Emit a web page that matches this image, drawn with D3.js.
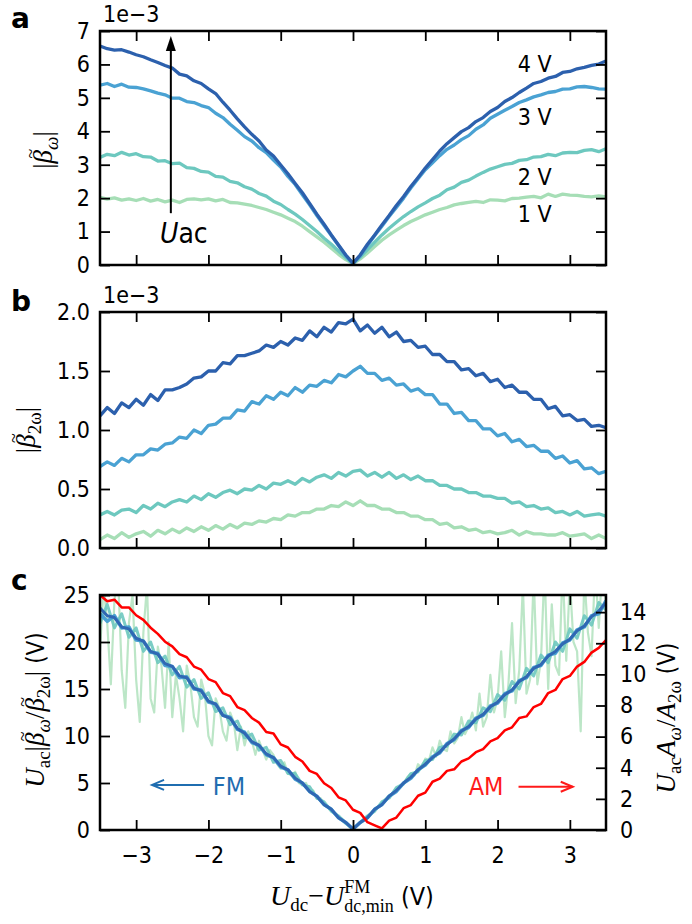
<!DOCTYPE html>
<html>
<head>
<meta charset="utf-8">
<script src="https://cdn.jsdelivr.net/npm/d3@7"></script>
<style>
  body { margin: 0; background: #fff; }
  text { font-family: "DejaVu Sans Condensed", "DejaVu Sans", sans-serif; font-stretch: condensed; }
</style>
</head>
<body>
<div id="chart"></div>
<script>
// sampling grids of the dc offset (V)
const dcOffset = d3.range(71).map(i => +(-3.5 + i * 0.1).toFixed(2))
const dcOffsetFine = d3.range(141).map(i => +(-3.5 + i * 0.05).toFixed(3))

const acLabels = ['1 V', '2 V', '3 V', '4 V']
const acColors = ['#a6deb6', '#6dc8bf', '#4aa2d3', '#2c60ad']

// panel a: |beta_w| (1e-3)
const betaW_1V = [
  2.02, 1.97, 2.01, 1.94, 1.98, 1.93, 1.99, 1.91, 1.96, 1.89,
  1.94, 1.87, 1.96, 1.98, 1.95, 1.98, 1.92, 1.96, 1.87, 1.86,
  1.82, 1.78, 1.72, 1.66, 1.58, 1.50, 1.40, 1.30, 1.16, 1.00,
  0.84, 0.68, 0.50, 0.32, 0.16, 0.04, 0.18, 0.36, 0.55, 0.74,
  0.90, 1.04, 1.18, 1.30, 1.40, 1.50, 1.58, 1.66, 1.72, 1.80,
  1.84, 1.87, 1.90, 1.87, 1.95, 1.94, 1.92, 1.99, 2.00, 2.03,
  2.05, 2.01, 2.12, 2.05, 2.12, 2.09, 2.08, 2.05, 2.04, 2.07, 2.04]
const betaW_2V = [
  3.22, 3.31, 3.27, 3.37, 3.29, 3.33, 3.24, 3.23, 3.11, 3.12,
  3.03, 3.05, 2.91, 2.89, 2.80, 2.78, 2.65, 2.63, 2.50, 2.46,
  2.34, 2.27, 2.14, 2.06, 1.91, 1.81, 1.66, 1.52, 1.36, 1.18,
  1.00, 0.80, 0.62, 0.42, 0.22, 0.05, 0.24, 0.46, 0.68, 0.90,
  1.10, 1.28, 1.45, 1.60, 1.74, 1.86, 1.99, 2.09, 2.25, 2.33,
  2.47, 2.54, 2.66, 2.77, 2.87, 2.94, 3.01, 3.04, 3.13, 3.15,
  3.23, 3.24, 3.31, 3.27, 3.35, 3.37, 3.36, 3.43, 3.45, 3.39, 3.48]
const betaW_3V = [
  5.38, 5.43, 5.34, 5.41, 5.32, 5.31, 5.27, 5.21, 5.14, 5.09,
  4.99, 4.99, 4.89, 4.86, 4.77, 4.71, 4.54, 4.41, 4.21, 4.03,
  3.84, 3.71, 3.51, 3.36, 3.14, 2.93, 2.65, 2.41, 2.10, 1.80,
  1.48, 1.18, 0.88, 0.58, 0.28, 0.05, 0.28, 0.58, 0.88, 1.16,
  1.45, 1.72, 2.00, 2.30, 2.58, 2.85, 3.06, 3.27, 3.46, 3.59,
  3.75, 3.87, 4.06, 4.19, 4.39, 4.51, 4.63, 4.74, 4.86, 4.94,
  5.03, 5.09, 5.16, 5.19, 5.26, 5.27, 5.33, 5.34, 5.31, 5.27, 5.26]
const betaW_4V = [
  6.55, 6.47, 6.43, 6.44, 6.37, 6.29, 6.23, 6.14, 6.06, 5.97,
  5.89, 5.71, 5.66, 5.51, 5.43, 5.27, 5.13, 4.87, 4.63, 4.37,
  4.13, 3.91, 3.71, 3.44, 3.26, 2.99, 2.73, 2.44, 2.16, 1.84,
  1.52, 1.22, 0.90, 0.60, 0.30, 0.05, 0.30, 0.62, 0.90, 1.20,
  1.48, 1.78, 2.05, 2.35, 2.62, 2.90, 3.15, 3.41, 3.63, 3.81,
  3.99, 4.11, 4.29, 4.41, 4.59, 4.71, 4.89, 5.01, 5.16, 5.29,
  5.43, 5.49, 5.59, 5.64, 5.76, 5.79, 5.87, 5.91, 5.97, 6.01, 6.10]

// panel b: |beta_2w| (1e-3)
const beta2W_1V = [
  0.07, 0.11, 0.08, 0.13, 0.09, 0.12, 0.14, 0.10, 0.15, 0.12,
  0.16, 0.13, 0.17, 0.14, 0.18, 0.15, 0.19, 0.16, 0.20, 0.17,
  0.21, 0.20, 0.23, 0.22, 0.25, 0.24, 0.28, 0.27, 0.30, 0.30,
  0.33, 0.33, 0.36, 0.35, 0.39, 0.36, 0.40, 0.36, 0.36, 0.33,
  0.33, 0.30, 0.30, 0.27, 0.27, 0.24, 0.24, 0.20, 0.21, 0.17,
  0.18, 0.15, 0.16, 0.13, 0.14, 0.12, 0.13, 0.15, 0.11, 0.14,
  0.12, 0.12, 0.11, 0.11, 0.13, 0.10, 0.11, 0.12, 0.08, 0.11, 0.08]
const beta2W_2V = [
  0.28, 0.31, 0.28, 0.32, 0.33, 0.30, 0.36, 0.33, 0.38, 0.35,
  0.39, 0.41, 0.39, 0.44, 0.41, 0.46, 0.43, 0.47, 0.49, 0.46,
  0.50, 0.49, 0.53, 0.50, 0.55, 0.54, 0.57, 0.54, 0.59, 0.56,
  0.60, 0.62, 0.59, 0.64, 0.61, 0.65, 0.66, 0.61, 0.64, 0.60,
  0.64, 0.59, 0.62, 0.58, 0.61, 0.57, 0.57, 0.53, 0.53, 0.50,
  0.50, 0.47, 0.47, 0.44, 0.44, 0.42, 0.42, 0.38, 0.39, 0.35,
  0.36, 0.33, 0.34, 0.30, 0.31, 0.28, 0.31, 0.27, 0.28, 0.29, 0.27]
const beta2W_3V = [
  0.69, 0.73, 0.70, 0.76, 0.73, 0.79, 0.79, 0.84, 0.83, 0.88,
  0.89, 0.94, 0.93, 1.00, 0.97, 1.04, 1.05, 1.10, 1.10, 1.17,
  1.16, 1.24, 1.22, 1.29, 1.26, 1.32, 1.29, 1.36, 1.32, 1.38,
  1.37, 1.42, 1.40, 1.47, 1.45, 1.50, 1.54, 1.48, 1.48, 1.42,
  1.44, 1.38, 1.39, 1.33, 1.35, 1.30, 1.30, 1.22, 1.22, 1.14,
  1.15, 1.08, 1.08, 1.01, 1.01, 0.95, 0.97, 0.90, 0.92, 0.86,
  0.87, 0.82, 0.82, 0.76, 0.78, 0.72, 0.74, 0.67, 0.68, 0.63, 0.65]
const beta2W_4V = [
  1.12, 1.19, 1.14, 1.23, 1.19, 1.26, 1.21, 1.30, 1.25, 1.34,
  1.34, 1.36, 1.39, 1.44, 1.45, 1.50, 1.50, 1.57, 1.56, 1.63,
  1.63, 1.65, 1.67, 1.72, 1.70, 1.75, 1.72, 1.78, 1.76, 1.84,
  1.79, 1.87, 1.83, 1.91, 1.90, 1.94, 1.84, 1.89, 1.82, 1.87,
  1.79, 1.83, 1.75, 1.76, 1.70, 1.71, 1.64, 1.64, 1.58, 1.58,
  1.51, 1.52, 1.46, 1.48, 1.41, 1.43, 1.36, 1.38, 1.32, 1.32,
  1.26, 1.26, 1.18, 1.20, 1.12, 1.13, 1.08, 1.09, 1.03, 1.04, 1.02]

// panel c: U_ac |beta_w / beta_2w| (V), left axis
const ratioFM_1V = [
  19.0, 26.0, 22.0, 15.5, 24.5, 27.0, 17.0, 13.0, 22.0, 25.0,
  16.0, 11.5, 21.0, 26.0, 14.0, 12.5, 19.5, 17.5, 13.0, 20.0,
  12.0, 16.5, 14.0, 10.5, 17.5, 15.5, 12.0, 11.0, 16.0, 14.5,
  10.0, 9.0, 14.0, 13.0, 10.5, 9.5, 12.5, 11.5, 8.5, 11.0,
  9.0, 10.5, 9.5, 8.0, 9.5, 8.5, 7.5, 8.5, 8.0, 7.0,
  6.5, 7.2, 6.0, 5.8, 6.2, 5.0, 4.8, 5.0, 4.0, 4.2,
  3.3, 3.4, 2.8, 2.4, 2.0, 1.8, 1.4, 1.2, 0.7, 0.4,
  0.1, 0.4, 0.8, 1.1, 1.5, 1.8, 2.2, 2.5, 3.0, 3.3,
  3.7, 3.9, 4.5, 4.6, 5.0, 5.6, 6.0, 5.8, 7.0, 6.6,
  7.6, 7.4, 8.8, 7.8, 9.5, 8.6, 8.4, 10.5, 9.2, 9.8,
  12.0, 10.2, 11.0, 12.5, 10.6, 14.5, 11.0, 12.0, 16.5, 12.5,
  14.0, 19.0, 12.0, 15.5, 22.0, 13.5, 17.0, 26.0, 14.5, 16.0,
  27.0, 15.5, 18.0, 28.0, 15.0, 24.0, 17.5, 16.5, 28.0, 18.0,
  26.5, 20.0, 19.0, 10.5, 27.0, 21.0, 18.5, 28.0, 21.5, 28.0, 24.0]
const ratioFM_2V = [
  22.0, 24.0, 21.5, 23.0, 20.5, 21.5, 19.0, 20.0, 17.8, 18.5,
  16.5, 17.4, 15.2, 16.0, 14.0, 14.6, 12.6, 13.0, 11.2, 11.6,
  9.8, 10.2, 8.5, 8.8, 7.2, 7.4, 6.0, 6.0, 4.8, 4.6,
  3.4, 3.0, 2.0, 1.5, 0.7, 0.1, 0.8, 1.5, 2.0, 3.0,
  3.4, 4.5, 4.9, 6.0, 6.2, 7.4, 7.5, 8.8, 8.9, 10.2,
  10.1, 11.6, 11.4, 13.0, 12.6, 14.4, 13.8, 15.8, 15.0, 17.2,
  16.4, 18.6, 17.8, 20.0, 19.0, 21.4, 20.4, 22.8, 21.8, 24.2, 23.4]
const ratioFM_3V = [
  23.0, 22.2, 22.8, 21.5, 21.6, 20.2, 20.1, 18.9, 18.8, 17.5,
  17.4, 16.2, 16.3, 15.0, 14.9, 13.6, 13.4, 12.2, 12.0, 10.7,
  10.4, 9.3, 9.0, 8.0, 7.7, 6.7, 6.4, 5.4, 5.0, 4.1,
  3.6, 2.7, 2.2, 1.3, 0.8, 0.1, 0.8, 1.3, 2.2, 2.7,
  3.6, 4.1, 5.0, 5.5, 6.4, 6.9, 7.8, 8.2, 9.2, 9.6,
  10.6, 10.9, 11.9, 12.2, 13.2, 13.5, 14.5, 14.8, 15.9, 16.2,
  17.3, 17.5, 18.6, 18.8, 19.9, 20.2, 21.3, 21.6, 22.8, 23.0, 24.4]
const ratioFM_4V = [
  23.6, 22.8, 22.6, 21.6, 21.4, 20.4, 20.1, 19.0, 18.7, 17.7,
  17.4, 16.4, 16.2, 15.1, 14.8, 13.7, 13.4, 12.2, 11.9, 10.8,
  10.3, 9.4, 9.0, 8.1, 7.7, 6.8, 6.4, 5.5, 5.0, 4.1,
  3.6, 2.7, 2.2, 1.3, 0.8, 0.1, 0.8, 1.3, 2.2, 2.7,
  3.6, 4.2, 5.0, 5.6, 6.4, 7.0, 7.7, 8.3, 9.1, 9.7,
  10.5, 11.0, 11.8, 12.3, 13.1, 13.6, 14.4, 14.9, 15.8, 16.3,
  17.2, 17.6, 18.5, 19.0, 19.8, 20.3, 21.2, 21.7, 22.7, 23.3, 24.2]

// panel c: U_ac A_w / A_2w (V), right axis
const ratioAM = [
  15.1, 14.7, 14.8, 14.3, 14.3, 13.8, 13.5, 13.0, 12.6, 12.1,
  11.8, 11.3, 11.1, 10.5, 10.3, 9.7, 9.5, 8.8, 8.6, 7.9,
  7.7, 7.2, 6.9, 6.3, 6.2, 5.5, 5.3, 4.7, 4.4, 3.8,
  3.6, 3.0, 2.7, 2.1, 1.9, 1.3, 1.1, 0.5, 0.3, 0.1,
  0.6, 0.8, 1.4, 1.6, 2.2, 2.4, 3.1, 3.3, 3.8, 3.9,
  4.4, 4.6, 5.0, 5.2, 5.7, 5.9, 6.4, 6.6, 7.2, 7.3,
  7.9, 8.1, 8.8, 9.0, 9.7, 9.9, 10.5, 10.8, 11.4, 11.7, 12.2]

const W = 692, H = 924
const left = 100, right = 606
const serif = '"Liberation Serif", "DejaVu Serif", serif'

const svg = d3.select('#chart').append('svg')
  .attr('width', W).attr('height', H)

const x = d3.scaleLinear().domain([-3.5, 3.5]).range([left, right])
const xTicks = [-3, -2, -1, 0, 1, 2, 3]

function panel(top, bottom, domain) {
  const y = d3.scaleLinear().domain(domain).range([bottom, top])
  const id = 'clip' + top
  svg.append('clipPath').attr('id', id).append('rect')
    .attr('x', left).attr('y', top).attr('width', right - left).attr('height', bottom - top)
  const g = svg.append('g')
  const plot = g.append('g').attr('clip-path', `url(#${id})`)
  return { y, g, plot, top, bottom }
}

function frame(p, yTicks, yFmt, xLabels, yRight, rTicks) {
  const { g, y, top, bottom } = p
  g.append('g').attr('transform', `translate(0,${bottom})`)
    .call(d3.axisBottom(x).tickValues(xTicks).tickSize(-10).tickPadding(17)
      .tickFormat(xLabels ? d3.format('') : () => ''))
  g.append('g').attr('transform', `translate(0,${top})`)
    .call(d3.axisTop(x).tickValues(xTicks).tickSize(-10).tickFormat(() => ''))
  g.append('g').attr('transform', `translate(${left},0)`)
    .call(d3.axisLeft(y).tickValues(yTicks).tickSize(-10).tickPadding(10).tickFormat(yFmt))
  if (yRight) {
    g.append('g').attr('transform', `translate(${right},0)`)
      .call(d3.axisRight(yRight).tickValues(rTicks).tickSize(-10).tickPadding(14).tickFormat(d3.format('d')))
  } else {
    g.append('g').attr('transform', `translate(${right},0)`)
      .call(d3.axisRight(y).tickValues(yTicks).tickSize(-10).tickFormat(() => ''))
  }
  g.selectAll('.domain').remove()
  g.selectAll('.tick line').attr('stroke', '#000').attr('stroke-width', 1.8)
  g.selectAll('.tick text').attr('font-size', 23).attr('fill', '#000')
  g.append('rect')
    .attr('x', left).attr('y', top).attr('width', right - left).attr('height', bottom - top)
    .attr('fill', 'none').attr('stroke', '#000').attr('stroke-width', 2.5)
}

function trace(p, xs, values, color, width, yScale, opacity) {
  const ys = yScale || p.y
  p.plot.append('path')
    .datum(values)
    .attr('fill', 'none')
    .attr('stroke', color)
    .attr('stroke-width', width)
    .attr('stroke-opacity', opacity || 1)
    .attr('stroke-linejoin', 'round')
    .attr('d', d3.line().x((d, i) => x(xs[i])).y(d => ys(d)))
}

// parts: {t, i: italic, s: sans, size, off: vertical shift, back: overlay on previous, tilde}
function richText(px, py, parts, rotate, anchor) {
  const t = svg.append('text')
    .attr('transform', `translate(${px},${py})` + (rotate ? ' rotate(-90)' : ''))
    .attr('text-anchor', anchor || 'middle')
  let cur = 0, prev = null, carry = 0
  const font = (ts, p, size) => ts
    .style('font-family', p.s ? null : serif)
    .style('font-style', p.i ? 'italic' : 'normal')
    .style('font-size', size + 'px')
  parts.forEach(p => {
    const off = p.off || 0
    const ts = font(t.append('tspan').text(p.t), p, p.size || 27).attr('dy', off - cur)
    if (p.back && prev) ts.attr('dx', -prev.node().getComputedTextLength())
    else if (carry) ts.attr('dx', carry)
    carry = 0
    cur = off
    prev = ts
    if (p.tilde) {
      // accent over the glyph just written
      const bw = ts.node().getComputedTextLength()
      const acc = font(t.append('tspan').text('~'), { i: false }, 18)
      const aw = acc.node().getComputedTextLength()
      acc.attr('dy', -15).attr('dx', -(bw + aw) / 2 + 3)
      cur = off - 15
      carry = (bw - aw) / 2 - 3
    }
  })
  return t
}

function panelLetter(txt, py) {
  svg.append('text').attr('x', 11).attr('y', py).text(txt)
    .attr('font-size', 28).attr('font-weight', 'bold')
    .style('font-family', '"DejaVu Sans", sans-serif').style('font-stretch', 'normal')
}

function scaleNote(py) {
  svg.append('text').attr('x', 103).attr('y', py).text('1e\u22123').attr('font-size', 23)
}

// ---------- panel a ----------
const pa = panel(31, 265, [0, 7])
;[betaW_1V, betaW_2V, betaW_3V, betaW_4V].forEach((s, k) => trace(pa, dcOffset, s, acColors[k], 3.3))
frame(pa, d3.range(0, 8), d3.format('d'), false)

const arrowTop = pa.y(6.85), arrowBot = pa.y(1.55), arrowX = x(-2.52)
svg.append('line').attr('x1', arrowX).attr('x2', arrowX).attr('y1', arrowBot).attr('y2', arrowTop + 12)
  .attr('stroke', '#000').attr('stroke-width', 2)
svg.append('path')
  .attr('d', `M${arrowX},${arrowTop} L${arrowX - 5},${arrowTop + 15} L${arrowX + 5},${arrowTop + 15} Z`)
  .attr('fill', '#000')
svg.append('text').attr('x', x(-2.67)).attr('y', pa.y(0.65))
  .call(t => t.append('tspan').text('U').style('font-style', 'italic').attr('font-size', 28))
  .call(t => t.append('tspan').text('ac').attr('font-size', 28))

const labelLevels = [1.29, 2.4, 4.19, 5.78]
acLabels.forEach((l, k) => {
  svg.append('text').attr('x', x(2.28)).attr('y', pa.y(labelLevels[k])).text(l).attr('font-size', 23)
})

// ---------- panel b ----------
const pb = panel(312, 548, [0, 2])
;[beta2W_1V, beta2W_2V, beta2W_3V, beta2W_4V].forEach((s, k) => trace(pb, dcOffset, s, acColors[k], 3.3))
frame(pb, [0, 0.5, 1, 1.5, 2], d3.format('.1f'), false)

// ---------- panel c ----------
const pc = panel(595, 830, [0, 25])
const yRight = d3.scaleLinear().domain([0, 15.1]).range([830, 595])
trace(pc, dcOffsetFine, ratioFM_1V, '#8fd6a2', 2.2, null, 0.6)
trace(pc, dcOffset, ratioFM_2V, acColors[1], 3, null, 0.9)
trace(pc, dcOffset, ratioFM_3V, acColors[2], 3.5)
trace(pc, dcOffset, ratioFM_4V, '#3068b3', 3)
trace(pc, dcOffset, ratioAM, '#ff0000', 2.5, yRight)
frame(pc, [0, 5, 10, 15, 20, 25], d3.format('d'), true, yRight, d3.range(0, 15, 2))

const fmColor = '#1f6db0', amColor = '#ff1a1a'
function hArrow(x1, x2, yy, color) {
  const dir = Math.sign(x2 - x1)
  svg.append('line').attr('x1', x1).attr('x2', x2).attr('y1', yy).attr('y2', yy)
    .attr('stroke', color).attr('stroke-width', 2)
  svg.append('path')
    .attr('d', `M${x2 - dir * 12},${yy - 5} L${x2},${yy} L${x2 - dir * 12},${yy + 5}`)
    .attr('fill', 'none').attr('stroke', color).attr('stroke-width', 2)
}
hArrow(x(-2.06), x(-2.78), pc.y(4.8), fmColor)
svg.append('text').attr('x', x(-1.94)).attr('y', pc.y(3.7)).text('FM').attr('font-size', 25).attr('fill', fmColor)
svg.append('text').attr('x', x(1.6)).attr('y', pc.y(3.7)).text('AM').attr('font-size', 25).attr('fill', amColor)
hArrow(x(2.29), x(3.04), pc.y(4.6), amColor)

// ---------- labels ----------
panelLetter('a', 28)
panelLetter('b', 311)
panelLetter('c', 590)
scaleNote(22)
scaleNote(303)

richText(52, 150, [
  { t: '|' }, { t: 'β', i: true, tilde: true }, { t: 'ω', i: true, size: 19, off: 6 }, { t: '|' }
], true)
richText(35, 430, [
  { t: '|' }, { t: 'β', i: true, tilde: true }, { t: '2ω', i: false, size: 19, off: 6 }, { t: '|' }
], true)
richText(44, 710, [
  { t: 'U', i: true }, { t: 'ac', size: 19, off: 6 },
  { t: '|' }, { t: 'β', i: true, tilde: true }, { t: 'ω', i: true, size: 19, off: 6 },
  { t: '/' }, { t: 'β', i: true, tilde: true }, { t: '2ω', size: 19, off: 6 }, { t: '|' },
  { t: ' (V)', s: true, size: 24 }
], true)
richText(675, 718, [
  { t: 'U', i: true }, { t: 'ac', size: 19, off: 6 },
  { t: 'A', i: true }, { t: 'ω', i: true, size: 19, off: 6 },
  { t: '/' }, { t: 'A', i: true }, { t: '2ω', size: 19, off: 6 },
  { t: ' (V)', s: true, size: 24 }
], true)
richText(352, 905, [
  { t: 'U', i: true, size: 28 }, { t: 'dc', size: 19, off: 6 },
  { t: '\u2212', size: 28 }, { t: 'U', i: true, size: 28 }, { t: 'FM', size: 18, off: -12 },
  { t: 'dc,min', size: 18, off: 7, back: true },
  { t: ' (V)', s: true, size: 25 }
], false)
</script>
</body>
</html>
